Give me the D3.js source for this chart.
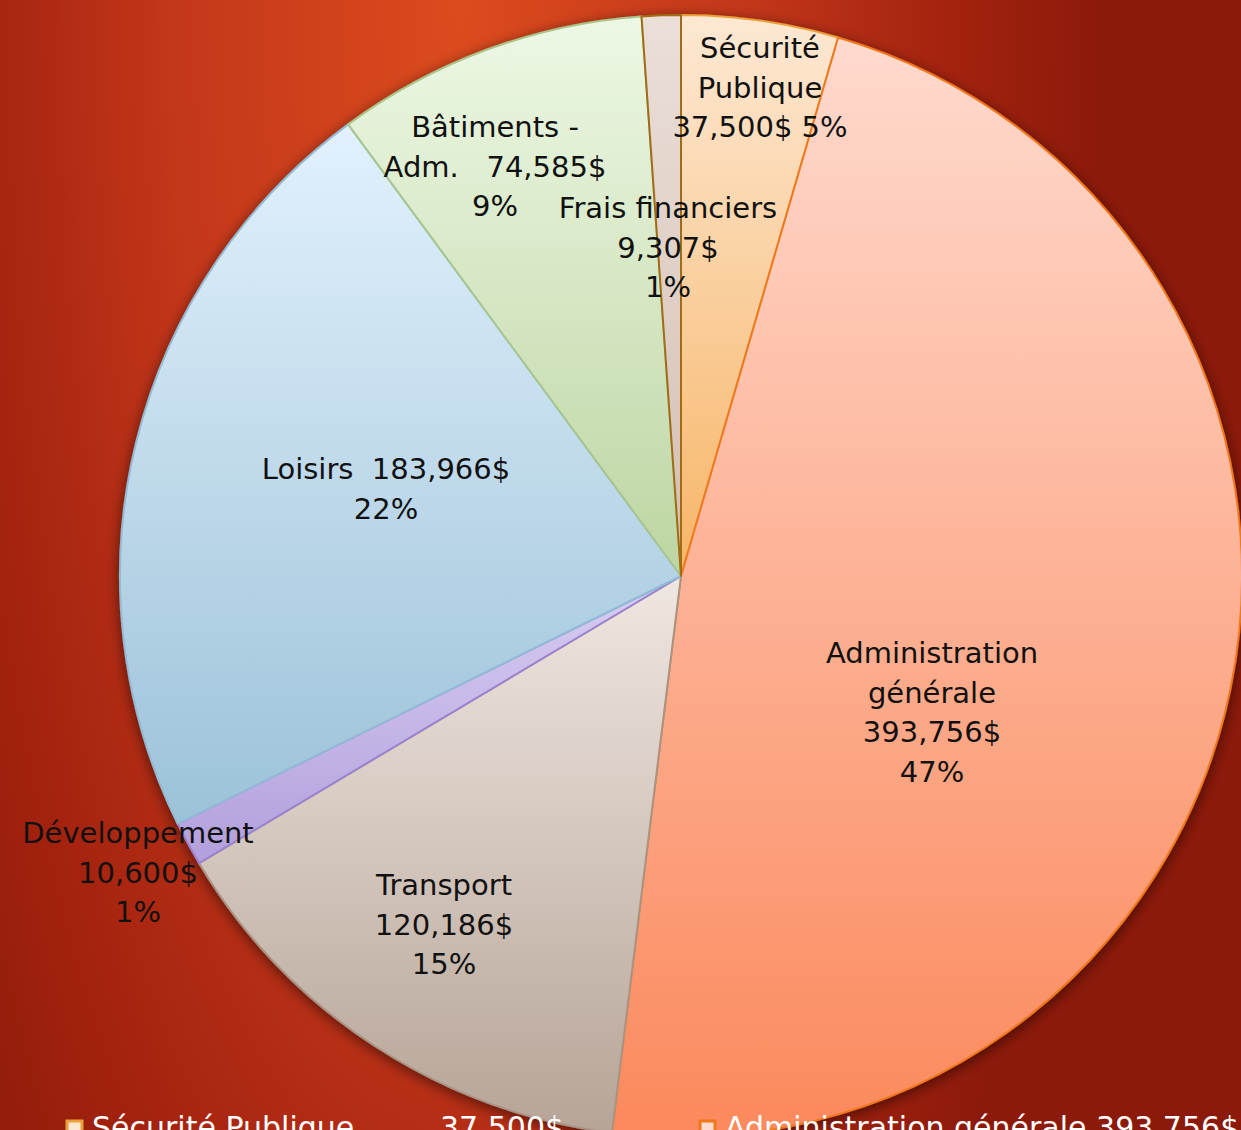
<!DOCTYPE html>
<html>
<head>
<meta charset="utf-8">
<script src="https://cdn.jsdelivr.net/npm/d3@7"></script>
<style>
    html, body { margin: 0; padding: 0; overflow: hidden; }
    text { font-family: "DejaVu Sans", sans-serif; white-space: pre; }
</style>
</head>
<body>
<svg id="chart" width="1241" height="1130"></svg>
<script>
// budget categories, in the order they sit on the pie (clockwise from 12 o'clock)
const categories = ["Sécurité Publique", "Administration générale", "Transport", "Développement", "Loisirs", "Bâtiments - Adm.", "Frais financiers"];
const amounts = [37500, 393756, 120186, 10600, 183966, 74585, 9307];
const amountLabels = ["37,500$", "393,756$", "120,186$", "10,600$", "183,966$", "74,585$", "9,307$"];
const percentLabels = ["5%", "47%", "15%", "1%", "22%", "9%", "1%"];

// text lines of every data label, as Excel wrapped them
const labelLines = [
    ["Sécurité", "Publique", "37,500$ 5%"],
    ["Administration", "générale", "393,756$", "47%"],
    ["Transport", "120,186$", "15%"],
    ["Développement", "10,600$", "1%"],
    ["Loisirs  183,966$", "22%"],
    ["Bâtiments -", "Adm.   74,585$", "9%"],
    ["Frais financiers", "9,307$", "1%"]
];

// colours: top / bottom of the slice gradient and the outline
const topColors    = ["#fde8d3", "#ffdace", "#efe7e1", "#d8cef2", "#e2f1fd", "#edf8e5", "#ebdfd8"];
const bottomColors = ["#f7b567", "#fb895c", "#b6a497", "#b29fdc", "#9cc2d8", "#bdd5a2", "#d3bfb3"];
const strokeColors = ["#e9a23a", "#f0781c", "#a89485", "#9a82d0", "#90bcd6", "#a7c58d", "#a06c12"];

const width = 1241;
const height = 1130;
const center = { x: 681, y: 576 };
const radius = 561;

// where the labels were dragged to, relative to the pie centre
const labelOffsets = [
    { x: 79, y: -528 }, { x: 251, y: 77 }, { x: -237, y: 309 }, { x: -543, y: 257 },
    { x: -295, y: -107 }, { x: -186, y: -449 }, { x: -13, y: -368 }
];
const lineHeight = 39.5;

const svg = d3.select("#chart");
const defs = svg.append("defs");

/* background: the dark red theme with the warm spot near the top */
const bg = defs.append("radialGradient")
    .attr("id", "bg")
    .attr("gradientUnits", "userSpaceOnUse")
    .attr("cx", 0).attr("cy", 0).attr("r", 1)
    .attr("gradientTransform", "translate(460,10) scale(640,1900)");
bg.append("stop").attr("offset", 0).attr("stop-color", "#dc4b1e");
bg.append("stop").attr("offset", 0.45).attr("stop-color", "#c3371a");
bg.append("stop").attr("offset", 0.75).attr("stop-color", "#a5230f");
bg.append("stop").attr("offset", 1).attr("stop-color", "#8c1a0a");

svg.append("rect")
    .attr("width", width)
    .attr("height", height)
    .style("fill", "url(#bg)");

const shadow = defs.append("filter")
    .attr("id", "shadow")
    .attr("x", "-10%").attr("y", "-10%")
    .attr("width", "120%").attr("height", "120%");
shadow.append("feDropShadow")
    .attr("dx", 0).attr("dy", 3)
    .attr("stdDeviation", 7)
    .attr("flood-color", "#000")
    .attr("flood-opacity", 0.55);

categories.forEach((c, i) => {
    const g = defs.append("linearGradient")
        .attr("id", "slice" + i)
        .attr("x1", 0).attr("y1", 0).attr("x2", 0).attr("y2", 1);
    g.append("stop").attr("offset", 0).attr("stop-color", topColors[i]);
    g.append("stop").attr("offset", 1).attr("stop-color", bottomColors[i]);
});

const slices = categories.map((c, i) => ({ name: c, value: amounts[i], index: i }));

const pie = d3.pie()
    .sort(null)
    .value(d => d.value);

const arc = d3.arc()
    .innerRadius(0)
    .outerRadius(radius);

const pieGroup = svg.append("g")
    .attr("transform", `translate(${center.x},${center.y})`)
    .attr("filter", "url(#shadow)");

pieGroup.selectAll("path")
    .data(pie(slices))
    .enter()
    .append("path")
    .attr("d", arc)
    .style("fill", d => `url(#slice${d.data.index})`)
    .style("stroke", d => strokeColors[d.data.index])
    .style("stroke-width", 2)
    .style("stroke-linejoin", "round");

/* data labels */
const labels = svg.append("g")
    .attr("transform", `translate(${center.x},${center.y})`);

labelLines.forEach((lines, i) => {
    const t = labels.append("text")
        .attr("x", labelOffsets[i].x)
        .attr("y", labelOffsets[i].y)
        .attr("text-anchor", "middle")
        .style("font-size", "29px")
        .style("fill", "#111");
    lines.forEach((line, j) => {
        t.append("tspan")
            .attr("x", labelOffsets[i].x)
            .attr("y", labelOffsets[i].y + j * lineHeight)
            .attr("dominant-baseline", "central")
            .text(line);
    });
});

/* legend, mostly cut off by the bottom edge */
const legendItems = [
    { i: 0, x: 67, gap: 348 },
    { i: 1, x: 700, gap: 0 }
];

const legend = svg.append("g");

legendItems.forEach(item => {
    legend.append("rect")
        .attr("x", item.x)
        .attr("y", 1121)
        .attr("width", 15)
        .attr("height", 15)
        .style("fill", topColors[item.i])
        .style("stroke", strokeColors[item.i])
        .style("stroke-width", 3);

    const name = legend.append("text")
        .attr("x", item.x + 25)
        .attr("y", 1138)
        .style("font-size", "30px")
        .style("fill", "#fff");

    if (item.gap > 0) {
        name.text(categories[item.i]);
        legend.append("text")
            .attr("x", item.x + 25 + item.gap)
            .attr("y", 1138)
            .style("font-size", "30px")
            .style("fill", "#fff")
            .text(amountLabels[item.i]);
    } else {
        name.text(categories[item.i] + " " + amountLabels[item.i]);
    }
});
</script>
</body>
</html>
